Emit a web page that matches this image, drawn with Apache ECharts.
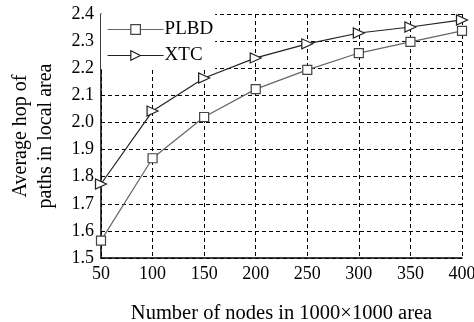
<!DOCTYPE html>
<html><head><meta charset="utf-8">
<script src="https://cdn.jsdelivr.net/npm/echarts@6/dist/echarts.min.js"></script>
<style>html,body{margin:0;padding:0;background:#fff}#c{width:474px;height:322px}</style>
</head><body><div id="c"></div>
<script>
var nodes = [50, 100, 150, 200, 250, 300, 350, 400];
var plbd = [1.564, 1.868, 2.02, 2.123, 2.194, 2.256, 2.297, 2.338];
var xtc = [1.773, 2.042, 2.164, 2.238, 2.29, 2.33, 2.352, 2.378];
var font = 'Liberation Serif';
var chart = echarts.init(document.getElementById('c'));
function pairs(v){ return nodes.map(function(n,i){ return [n, v[i]]; }); }
var sqStyle = {color: '#fff', borderColor: '#444', borderWidth: 1.2};
var triStyle = {color: '#fff', borderColor: '#222', borderWidth: 1.2};
chart.setOption({
  animation: false,
  backgroundColor: '#fff',
  grid: {left: 101, right: 12, top: 14, bottom: 64, outerBoundsMode: 'none', containLabel: false},
  legend: {
    orient: 'vertical', left: 101, top: 14, itemWidth: 56, itemHeight: 12, itemGap: 7,
    backgroundColor: '#fff', padding: [6, 2, 4, 6],
    textStyle: {fontFamily: font, fontSize: 19, lineHeight: 19, color: '#000', padding: [0,0,0,-4]},
    data: [
      {name: 'PLBD', itemStyle: sqStyle, lineStyle: {color: '#666', width: 1.2}},
      {name: 'XTC', itemStyle: triStyle, lineStyle: {color: '#222', width: 1.2}}
    ]
  },
  xAxis: {
    type: 'value', min: 50, max: 400, interval: 50,
    name: 'Number of nodes in 1000×1000 area', nameLocation: 'middle', nameGap: 45,
    nameTextStyle: {fontFamily: font, fontSize: 20.5, color: '#000'},
    axisLine: {lineStyle: {color: '#000', width: 1.5}},
    axisTick: {show: false},
    axisLabel: {fontFamily: font, fontSize: 18, color: '#000', margin: 7},
    splitLine: {show: true, lineStyle: {color: '#000', type: [4, 3], width: 1}}
  },
  yAxis: {
    type: 'value', min: 1.5, max: 2.4, interval: 0.1,
    name: 'Average hop of\npaths in local area', nameLocation: 'middle', nameGap: 43,
    nameTextStyle: {fontFamily: font, fontSize: 20, color: '#000', lineHeight: 25},
    axisLine: {show: true, lineStyle: {color: '#000', width: 1.5}},
    axisTick: {show: false},
    axisLabel: {fontFamily: font, fontSize: 18, color: '#000', margin: 7, formatter: function(v){ return v.toFixed(1); }},
    splitLine: {show: true, lineStyle: {color: '#000', type: [4, 3], width: 1}}
  },
  series: [
    {name: 'PLBD', type: 'line', data: pairs(plbd), symbol: 'rect', symbolSize: 9,
     lineStyle: {color: '#666', width: 1.2}, itemStyle: sqStyle},
    {name: 'XTC', type: 'line', data: pairs(xtc), symbol: 'triangle', symbolSize: [10, 11], symbolRotate: -90,
     lineStyle: {color: '#222', width: 1.2}, itemStyle: triStyle}
  ]
});
</script></body></html>
